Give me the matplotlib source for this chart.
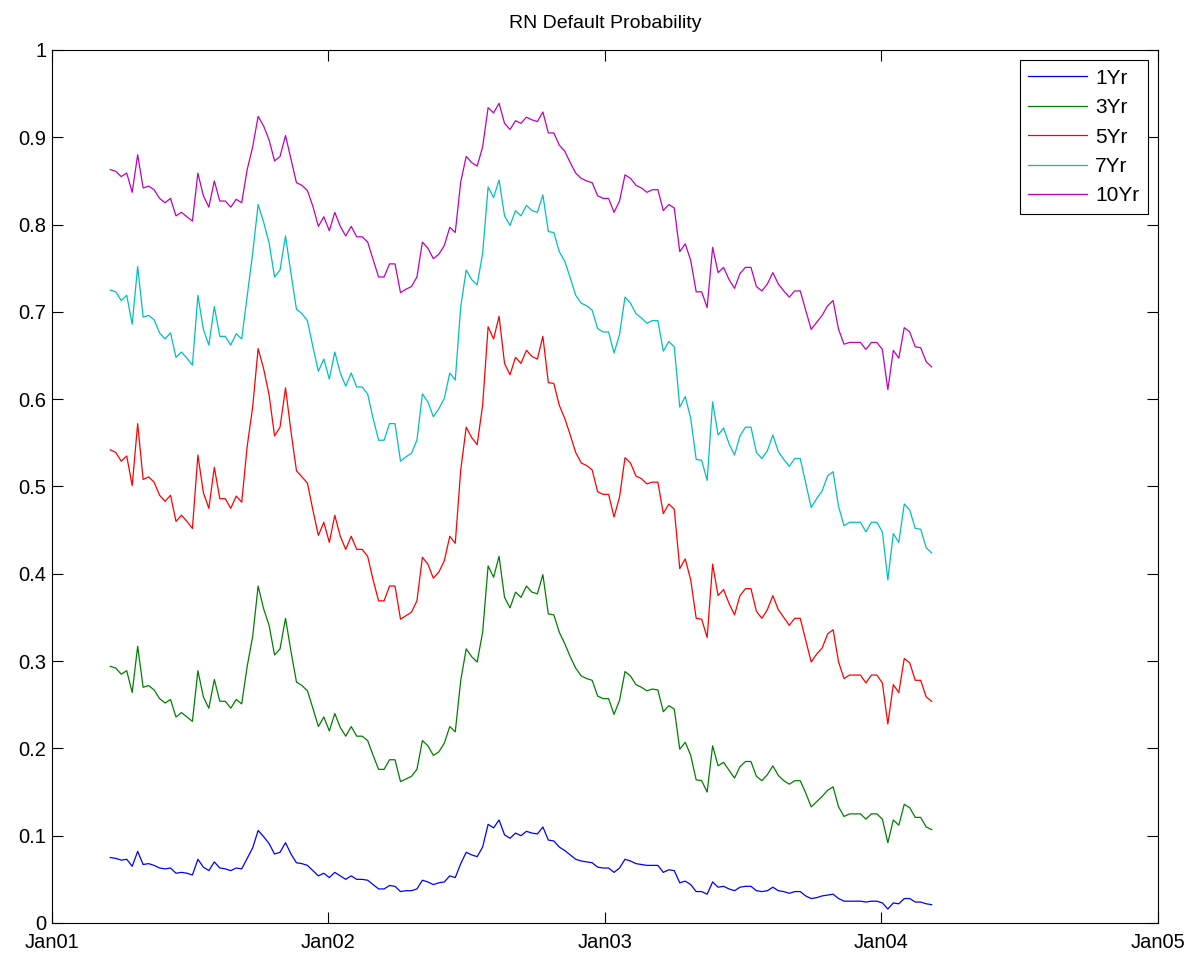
import numpy as np
import pandas as pd
import matplotlib
matplotlib.use('Agg')
import matplotlib.pyplot as plt
import matplotlib.dates as mdates

# weekly observations, Mar 2001 - Mar 2004
start_date = '2001-03-19'
end_date = '2004-03-08'

labels = ['1Yr', '3Yr', '5Yr', '7Yr', '10Yr']
colors = ['#0000ff', '#008000', '#ff0000', '#00bfbf', '#bf00bf']

p1 = [0.075, 0.074, 0.072, 0.073, 0.065, 0.082, 0.067, 0.068, 0.066, 0.063,
      0.062, 0.063, 0.057, 0.058, 0.057, 0.055, 0.073, 0.064, 0.060, 0.070,
      0.063, 0.062, 0.060, 0.063, 0.062, 0.074, 0.086, 0.106, 0.099, 0.091,
      0.079, 0.081, 0.092, 0.079, 0.069, 0.068, 0.066, 0.060, 0.054, 0.057,
      0.052, 0.058, 0.054, 0.050, 0.054, 0.050, 0.050, 0.049, 0.044,
      0.039, 0.039, 0.043, 0.042, 0.036, 0.037, 0.037, 0.039, 0.049, 0.047,
      0.044, 0.046, 0.047, 0.054, 0.052, 0.068, 0.081, 0.078, 0.076, 0.087,
      0.113, 0.109, 0.118, 0.101, 0.097, 0.103, 0.100, 0.105, 0.103, 0.102,
      0.110, 0.095, 0.094, 0.087, 0.083, 0.078, 0.073, 0.071, 0.070, 0.069,
      0.064, 0.063, 0.063, 0.058, 0.063, 0.073, 0.071, 0.068, 0.067, 0.066,
      0.066, 0.066, 0.058, 0.061, 0.060, 0.046, 0.048, 0.044, 0.036, 0.036,
      0.033, 0.047, 0.041, 0.042, 0.039, 0.037, 0.041, 0.042, 0.042, 0.037,
      0.036, 0.037, 0.041, 0.037, 0.036, 0.034, 0.036, 0.036, 0.031, 0.028,
      0.029, 0.031, 0.032, 0.033, 0.028, 0.025, 0.025, 0.025, 0.025, 0.024,
      0.025, 0.025, 0.023, 0.016, 0.023, 0.022, 0.028, 0.028, 0.024, 0.024,
      0.022, 0.021]

p3 = [0.294, 0.292, 0.285, 0.289, 0.264, 0.317, 0.270, 0.272, 0.267, 0.257,
      0.252, 0.256, 0.236, 0.241, 0.236, 0.231, 0.289, 0.259, 0.246, 0.279,
      0.254, 0.254, 0.246, 0.256, 0.251, 0.294, 0.328, 0.386, 0.360, 0.341,
      0.307, 0.314, 0.349, 0.311, 0.276, 0.272, 0.266, 0.246, 0.225, 0.236,
      0.220, 0.240, 0.224, 0.214, 0.225, 0.214, 0.214, 0.209, 0.192,
      0.176, 0.176, 0.187, 0.187, 0.162, 0.165, 0.168, 0.176, 0.209, 0.203,
      0.192, 0.196, 0.206, 0.225, 0.219, 0.278, 0.314, 0.305, 0.299, 0.333,
      0.409, 0.396, 0.420, 0.373, 0.361, 0.379, 0.373, 0.386, 0.379, 0.377,
      0.399, 0.354, 0.353, 0.333, 0.320, 0.305, 0.292, 0.283, 0.280, 0.278,
      0.260, 0.257, 0.257, 0.239, 0.255, 0.288, 0.283, 0.273, 0.270, 0.266,
      0.268, 0.267, 0.242, 0.249, 0.245, 0.199, 0.207, 0.192, 0.164, 0.163,
      0.150, 0.203, 0.180, 0.184, 0.175, 0.166, 0.179, 0.185, 0.185, 0.168,
      0.163, 0.170, 0.180, 0.169, 0.163, 0.159, 0.163, 0.163, 0.149, 0.133,
      0.139, 0.145, 0.152, 0.156, 0.133, 0.122, 0.125, 0.125, 0.125, 0.119,
      0.125, 0.125, 0.119, 0.092, 0.118, 0.112, 0.136, 0.132, 0.121, 0.121,
      0.110, 0.107]

p5 = [0.542, 0.539, 0.529, 0.535, 0.501, 0.572, 0.508, 0.511, 0.505, 0.490,
      0.483, 0.490, 0.460, 0.467, 0.460, 0.452, 0.536, 0.493, 0.475, 0.522,
      0.486, 0.486, 0.475, 0.489, 0.482, 0.546, 0.591, 0.658, 0.635, 0.605,
      0.558, 0.568, 0.613, 0.563, 0.518, 0.511, 0.504, 0.473, 0.444, 0.459,
      0.436, 0.467, 0.443, 0.428, 0.443, 0.428, 0.428, 0.420, 0.393,
      0.369, 0.369, 0.386, 0.386, 0.348, 0.352, 0.356, 0.369, 0.419, 0.411,
      0.395, 0.402, 0.415, 0.443, 0.435, 0.519, 0.568, 0.556, 0.548, 0.593,
      0.683, 0.669, 0.695, 0.641, 0.628, 0.648, 0.641, 0.656, 0.649, 0.646,
      0.672, 0.619, 0.618, 0.593, 0.578, 0.559, 0.539, 0.527, 0.524, 0.519,
      0.494, 0.491, 0.491, 0.465, 0.488, 0.533, 0.527, 0.512, 0.509, 0.503,
      0.505, 0.505, 0.469, 0.480, 0.474, 0.406, 0.417, 0.393, 0.349, 0.348,
      0.327, 0.411, 0.375, 0.382, 0.366, 0.353, 0.375, 0.383, 0.383, 0.357,
      0.349, 0.359, 0.375, 0.359, 0.350, 0.341, 0.349, 0.349, 0.324, 0.299,
      0.308, 0.315, 0.331, 0.336, 0.299, 0.280, 0.284, 0.284, 0.284, 0.275,
      0.284, 0.284, 0.275, 0.228, 0.273, 0.264, 0.303, 0.298, 0.278, 0.278,
      0.259, 0.254]

p7 = [0.725, 0.723, 0.713, 0.719, 0.686, 0.752, 0.694, 0.696, 0.691, 0.676,
      0.669, 0.676, 0.648, 0.654, 0.647, 0.639, 0.719, 0.680, 0.662, 0.706,
      0.672, 0.672, 0.662, 0.675, 0.669, 0.718, 0.767, 0.823, 0.803, 0.779,
      0.740, 0.748, 0.787, 0.744, 0.703, 0.698, 0.690, 0.660, 0.632, 0.646,
      0.623, 0.654, 0.630, 0.615, 0.630, 0.614, 0.614, 0.606, 0.578,
      0.553, 0.553, 0.572, 0.572, 0.529, 0.534, 0.538, 0.553, 0.606, 0.597,
      0.580, 0.589, 0.601, 0.630, 0.622, 0.706, 0.748, 0.737, 0.731, 0.767,
      0.843, 0.831, 0.851, 0.810, 0.799, 0.816, 0.810, 0.822, 0.816, 0.814,
      0.834, 0.792, 0.791, 0.769, 0.758, 0.739, 0.719, 0.710, 0.707, 0.702,
      0.681, 0.677, 0.677, 0.653, 0.674, 0.717, 0.710, 0.698, 0.693, 0.687,
      0.690, 0.690, 0.655, 0.666, 0.660, 0.591, 0.603, 0.578, 0.531, 0.530,
      0.507, 0.597, 0.559, 0.567, 0.549, 0.536, 0.558, 0.568, 0.568, 0.539,
      0.532, 0.541, 0.559, 0.540, 0.531, 0.523, 0.532, 0.532, 0.504, 0.476,
      0.486, 0.495, 0.512, 0.517, 0.477, 0.455, 0.459, 0.459, 0.459, 0.448,
      0.459, 0.459, 0.448, 0.393, 0.446, 0.436, 0.480, 0.473, 0.452, 0.451,
      0.430, 0.424]

p10 = [0.863, 0.861, 0.855, 0.859, 0.837, 0.880, 0.842, 0.844, 0.840, 0.830,
       0.825, 0.830, 0.810, 0.814, 0.809, 0.804, 0.859, 0.833, 0.820, 0.850,
       0.827, 0.827, 0.820, 0.829, 0.825, 0.863, 0.889, 0.924, 0.913, 0.897,
       0.873, 0.878, 0.902, 0.875, 0.848, 0.845, 0.839, 0.821, 0.798, 0.809,
       0.793, 0.814, 0.798, 0.787, 0.798, 0.786, 0.786, 0.780, 0.760,
       0.740, 0.740, 0.755, 0.755, 0.722, 0.726, 0.729, 0.740, 0.780, 0.773,
       0.761, 0.766, 0.776, 0.797, 0.791, 0.849, 0.878, 0.871, 0.867, 0.889,
       0.934, 0.928, 0.939, 0.916, 0.909, 0.919, 0.916, 0.923, 0.920, 0.918,
       0.929, 0.905, 0.905, 0.891, 0.884, 0.871, 0.859, 0.853, 0.850, 0.848,
       0.833, 0.830, 0.830, 0.814, 0.827, 0.857, 0.853, 0.845, 0.842, 0.837,
       0.840, 0.840, 0.816, 0.823, 0.819, 0.769, 0.778, 0.759, 0.723, 0.723,
       0.705, 0.774, 0.745, 0.751, 0.737, 0.727, 0.744, 0.751, 0.751, 0.729,
       0.724, 0.732, 0.745, 0.732, 0.724, 0.717, 0.724, 0.724, 0.702, 0.680,
       0.688, 0.696, 0.707, 0.713, 0.680, 0.663, 0.665, 0.665, 0.665, 0.657,
       0.665, 0.665, 0.657, 0.611, 0.656, 0.647, 0.682, 0.677, 0.660, 0.659,
       0.643, 0.637]

series = [p1, p3, p5, p7, p10]

year_ticks = pd.to_datetime(['2001-01-01', '2002-01-01', '2003-01-01',
                             '2004-01-01', '2005-01-01'])
y_ticks = [0, 0.1, 0.2, 0.3, 0.4, 0.5, 0.6, 0.7, 0.8, 0.9, 1]

plt.rcParams['font.family'] = ['Liberation Sans', 'DejaVu Sans']

fig = plt.figure(figsize=(11.97, 9.58), dpi=100)
ax = fig.add_axes([52 / 1197, 35 / 958, 1106 / 1197, 873 / 958])

for vals, lab, col in zip(series, labels, colors):
    dates = pd.date_range(start_date, end_date, periods=len(vals))
    ax.plot(dates, vals, color=col, lw=0.9, label=lab)

ax.set_xlim(year_ticks[0], year_ticks[-1])
ax.set_ylim(0, 1)
ax.set_xticks(year_ticks)
ax.xaxis.set_major_formatter(mdates.DateFormatter('%b%y'))
ax.set_yticks(y_ticks)
ax.set_yticklabels(['%g' % v for v in y_ticks])

ax.tick_params(direction='in', length=8, width=0.8, top=True, right=True,
               labelsize=14.5, colors='black')
ax.tick_params(axis='x', pad=7)
ax.tick_params(axis='y', pad=4)
for sp in ax.spines.values():
    sp.set_linewidth(0.8)
    sp.set_color('black')

ax.set_title('RN Default Probability', fontsize=14, pad=16)

leg = ax.legend(loc='upper right', fontsize=15, fancybox=False,
                edgecolor='black', framealpha=1, handlelength=2.8,
                labelspacing=0.5, borderaxespad=0.5, borderpad=0.4,
                handletextpad=0.4)
leg.get_frame().set_linewidth(0.8)

fig.savefig('out.png', dpi=100, facecolor='white')
